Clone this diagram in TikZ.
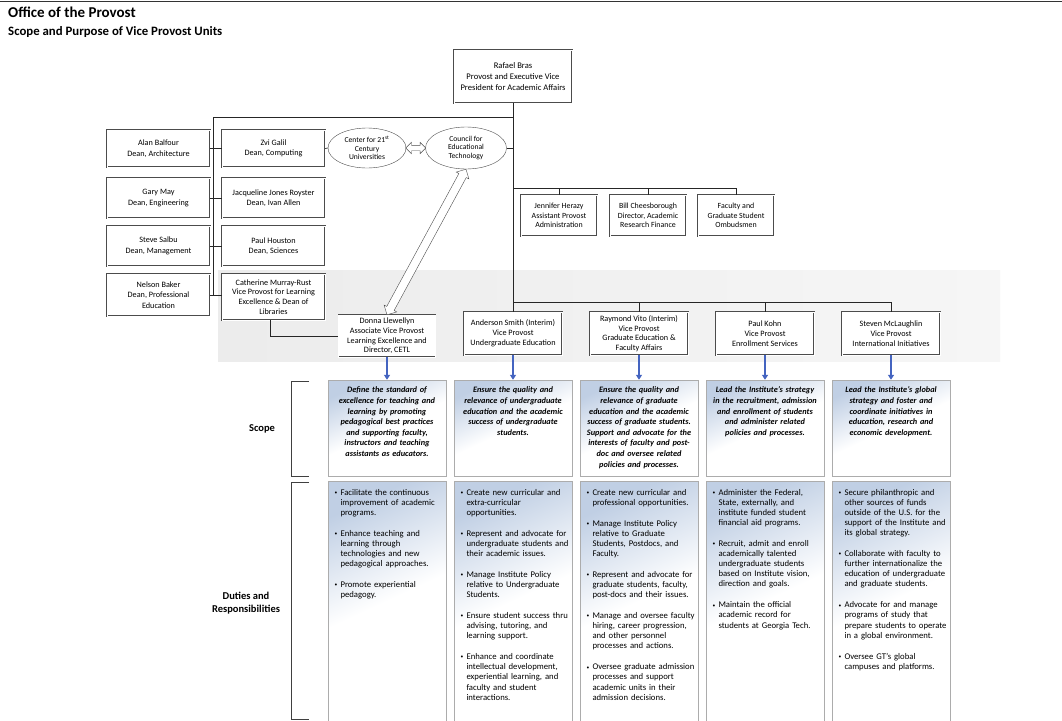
\documentclass[tikz,border=0pt]{standalone}
\usepackage{fontspec}
\setmainfont{Carlito}
\usetikzlibrary{positioning,calc,shapes.geometric,shapes.arrows,arrows.meta}
\hyphenpenalty=10000
\definecolor{panelblue}{RGB}{192,207,228}
\definecolor{arrowblue}{RGB}{68,100,192}

\tikzset{
    orgbox/.style={draw=gray!60!black, double, double distance=0.8pt, fill=white,
        align=center, inner sep=1pt, font=\fontsize{8.2}{10.4}\selectfont},
    oval/.style={ellipse, draw=gray!60!black, fill=white, align=center,
        inner sep=0pt, font=\fontsize{7.6}{8.6}\selectfont},
    link/.style={draw=gray!30!black, line width=0.6pt},
    panel/.style={draw=gray!65, top color=panelblue, bottom color=white, middle color=white, shading angle=25},
    scopetext/.style={text width=118, align=center, inner sep=0pt,
        font=\bfseries\itshape\fontsize{8.3}{10.6}\selectfont},
    dutytext/.style={text width=120, align=left, inner sep=0pt,
        font=\fontsize{8.7}{10.1}\selectfont},
    sidelabel/.style={align=center, font=\bfseries\fontsize{10.5}{13}\selectfont},
    bluearrow/.style={draw=arrowblue, line width=1.6pt, -{Triangle[length=5pt,width=6pt]}},
    fatarrow/.style={double arrow, draw=gray!60!black, fill=white, inner xsep=0pt,
        inner ysep=#1, double arrow head extend=3pt, minimum width=0pt}
}

\begin{document}
\begin{tikzpicture}[x=1pt, y=-1pt]
    % Page size and background band
    \useasboundingbox (0,0) rectangle (1062,720);
    \fill[white] (0,0) rectangle (1062,720);
    \shade[left color=gray!15, right color=gray!7] (218,270) rectangle (1000,361);
    \draw[gray!40!black, line width=0.8pt] (0,1) -- (1062,1);

    % Bullet for the duties lists
    \newcommand{\duty}[1]{\par\hangindent=6pt\hangafter=1\noindent
        \makebox[6pt][l]{\raisebox{0.8pt}{\fontsize{5.5}{5}\selectfont\textbullet}}#1\par\vspace{10.8pt}}

    % Title
    \node[anchor=base west, inner sep=0pt, font=\bfseries\fontsize{15}{18}\selectfont]
        (title) at (8,17) {Office of the Provost};
    \node[anchor=base west, inner sep=0pt, font=\bfseries\fontsize{12.8}{14}\selectfont]
        (subtitle) at (8,35) {Scope and Purpose of Vice Provost Units};

    % Provost
    \node[orgbox, minimum width=118, minimum height=53, font=\fontsize{8.6}{11.3}\selectfont]
        (provost) at (513,76.5) {Rafael Bras\\Provost and Executive Vice\\President for Academic Affairs};

    % Deans
    \node[orgbox, minimum width=103, minimum height=37] (balfour) at (158.5,148.5) {Alan Balfour\\Dean, Architecture};
    \node[orgbox, minimum width=103, minimum height=37] (galil) at (273.5,148.5) {Zvi Galil\\Dean, Computing};
    \node[orgbox, minimum width=103, minimum height=40] (may) at (158.5,198) {Gary May\\Dean, Engineering};
    \node[orgbox, minimum width=103, minimum height=40] (royster) at (273.5,198) {Jacqueline Jones Royster\\Dean, Ivan Allen};
    \node[orgbox, minimum width=103, minimum height=40] (salbu) at (158.5,246) {Steve Salbu\\Dean, Management};
    \node[orgbox, minimum width=103, minimum height=40] (houston) at (273.5,246) {Paul Houston\\Dean, Sciences};
    \node[orgbox, minimum width=103, minimum height=42] (baker) at (158.5,295) {Nelson Baker\\Dean, Professional\\Education};
    \node[orgbox, minimum width=103, minimum height=46, font=\fontsize{8.2}{9.7}\selectfont]
        (murrayrust) at (273.5,297) {Catherine Murray-Rust\\Vice Provost for Learning\\Excellence \& Dean of\\Libraries};

    % Centers and councils
    \node[oval, minimum width=78, minimum height=40] (center21) at (367,148) {Center for 21\textsuperscript{st}\\Century\\Universities};
    \node[oval, minimum width=81, minimum height=42] (council) at (466,148) {Council for\\Educational\\Technology};

    % Provost staff
    \node[orgbox, minimum width=76, minimum height=41, font=\fontsize{7.9}{9.4}\selectfont]
        (herazy) at (559,215.5) {Jennifer Herazy\\Assistant Provost\\Administration};
    \node[orgbox, minimum width=76, minimum height=41, font=\fontsize{7.9}{9.4}\selectfont]
        (cheesborough) at (648,215.5) {Bill Cheesborough\\Director, Academic\\Research Finance};
    \node[orgbox, minimum width=76, minimum height=41, font=\fontsize{7.9}{9.4}\selectfont]
        (ombuds) at (736,215.5) {Faculty and\\Graduate Student\\Ombudsmen};

    % Vice provosts
    \node[orgbox, minimum width=97, minimum height=42, font=\fontsize{8.2}{9.6}\selectfont]
        (llewellyn) at (387,336) {Donna Llewellyn\\Associate Vice Provost\\Learning Excellence and\\Director, CETL};
    \node[orgbox, minimum width=98, minimum height=43, font=\fontsize{8.2}{9.9}\selectfont]
        (smith) at (513,333.5) {Anderson Smith (Interim)\\Vice Provost\\Undergraduate Education};
    \node[orgbox, minimum width=98, minimum height=43, font=\fontsize{8.2}{9.6}\selectfont]
        (vito) at (639,333.5) {Raymond Vito (Interim)\\Vice Provost\\Graduate Education \&\\Faculty Affairs};
    \node[orgbox, minimum width=98, minimum height=43, font=\fontsize{8.2}{9.9}\selectfont]
        (kohn) at (765,333.5) {Paul Kohn\\Vice Provost\\Enrollment Services};
    \node[orgbox, minimum width=98, minimum height=43, font=\fontsize{8.2}{9.9}\selectfont]
        (mclaughlin) at (891,333.5) {Steven McLaughlin\\Vice Provost\\International Initiatives};

    % Lines of the chart
    \coordinate (deanbus) at (213,117);
    \coordinate (deanend) at (213,295);
    \coordinate (staffbus) at (513,188);
    \coordinate (vpbus) at (513,302);
    \draw[link] (provost.south) -- (smith.north);
    \draw[link] (deanbus -| provost.south) -- (deanbus) -- (deanend);
    \draw[link] (balfour.east) -- (galil.west);
    \draw[link] (may.east) -- (royster.west);
    \draw[link] (salbu.east) -- (houston.west);
    \draw[link] (baker.east) -- (baker.east -| murrayrust.west);
    \draw[link] (galil.east) -- (center21.west);
    \draw[link] (council.east) -- (council.east -| provost.south);
    \draw[link] (staffbus) -| (ombuds.north);
    \draw[link] (staffbus -| herazy.north) -- (herazy.north);
    \draw[link] (staffbus -| cheesborough.north) -- (cheesborough.north);
    \draw[link] (vpbus) -| (mclaughlin.north);
    \draw[link] (vpbus -| vito.north) -- (vito.north);
    \draw[link] (vpbus -| kohn.north) -- (kohn.north);
    \draw[link] ([xshift=-3]murrayrust.south) |- (llewellyn.west);

    % Two-way arrows
    \node[fatarrow=2.5pt, minimum height=20] (cuarrow) at ($(center21.east)!0.5!(council.west)$) {};
    \path let \p1=($(llewellyn.north)-(council.south)$), \n1={atan2(\y1,\x1)}, \n2={veclen(\x1,\y1)} in
        node[fatarrow=4pt, minimum height=\n2, rotate=\n1] (cetlarrow) at ($(council.south)!0.5!(llewellyn.north)$) {};

    % Function to draw one column of scope and duties
    \newcommand{\drawcolumn}[4]{
        \node[panel, minimum width=118, minimum height=96] (scope#1) at (#2,428) {};
        \node[scopetext, anchor=north] (scopetext#1) at ([yshift=-7]scope#1.north) {#3};
        \node[panel, minimum width=118, minimum height=240, anchor=north] (duty#1) at (#2,481) {};
        \node[dutytext, anchor=north west] (dutytext#1) at ([xshift=6.5, yshift=-4]duty#1.north west) {#4};
    }

    \drawcolumn{1}{387}{Define the standard of\\excellence for teaching and\\learning by promoting\\pedagogical best practices\\and supporting faculty,\\instructors and teaching\\assistants as educators.}
        {\duty{Facilitate the continuous\newline improvement of academic\newline programs.}
         \duty{Enhance teaching and\newline learning through\newline technologies and new\newline pedagogical approaches.}
         \duty{Promote experiential\newline pedagogy.}}
    \drawcolumn{2}{513}{Ensure the quality and\\relevance of undergraduate\\education and the academic\\success of undergraduate\\students.}
        {\duty{Create new curricular and\newline extra-curricular\newline opportunities.}
         \duty{Represent and advocate for\newline undergraduate students and\newline their academic issues.}
         \duty{Manage Institute Policy\newline relative to Undergraduate\newline Students.}
         \duty{Ensure student success thru\newline advising, tutoring, and\newline learning support.}
         \duty{Enhance and coordinate\newline intellectual development,\newline experiential learning, and\newline faculty and student\newline interactions.}}
    \drawcolumn{3}{639}{Ensure the quality and\\relevance of graduate\\education and the academic\\success of graduate students.\\Support and advocate for the\\interests of faculty and post-\\doc and oversee related\\policies and processes.}
        {\duty{Create new curricular and\newline professional opportunities.}
         \duty{Manage Institute Policy\newline relative to Graduate\newline Students, Postdocs, and\newline Faculty.}
         \duty{Represent and advocate for\newline graduate students, faculty,\newline post-docs and their issues.}
         \duty{Manage and oversee faculty\newline hiring, career progression,\newline and other personnel\newline processes and actions.}
         \duty{Oversee graduate admission\newline processes and support\newline academic units in their\newline admission decisions.}}
    \drawcolumn{4}{765}{Lead the Institute's strategy\\in the recruitment, admission\\and enrollment of students\\and administer related\\policies and processes.}
        {\duty{Administer the Federal,\newline State, externally, and\newline institute funded student\newline financial aid programs.}
         \duty{Recruit, admit and enroll\newline academically talented\newline undergraduate students\newline based on Institute vision,\newline direction and goals.}
         \duty{Maintain the official\newline academic record for\newline students at Georgia Tech.}}
    \drawcolumn{5}{891}{Lead the Institute's global\\strategy and foster and\\coordinate initiatives in\\education, research and\\economic development.}
        {\duty{Secure philanthropic and\newline other sources of funds\newline outside of the U.S. for the\newline support of the Institute and\newline its global strategy.}
         \duty{Collaborate with faculty to\newline further internationalize the\newline education of undergraduate\newline and graduate students.}
         \duty{Advocate for and manage\newline programs of study that\newline prepare students to operate\newline in a global environment.}
         \duty{Oversee GT's global\newline campuses and platforms.}}

    % Blue arrows from the vice provosts
    \foreach \vp/\i in {llewellyn/1, smith/2, vito/3, kohn/4, mclaughlin/5} {
        \draw[bluearrow] (\vp.south) -- (scope\i.north);
    }

    % Row labels with brackets
    \draw[link, gray!50!black, line width=0.8pt] (309,381) -- (291,381) -- (291,476) -- (309,476);
    \draw[link, gray!50!black, line width=0.8pt] (309,482) -- (291,482) -- (291,719) -- (309,719);
    \node[sidelabel] (scopelabel) at (262,429) {Scope};
    \node[sidelabel] (dutieslabel) at (246,603) {Duties and\\Responsibilities};
\end{tikzpicture}
\end{document}
